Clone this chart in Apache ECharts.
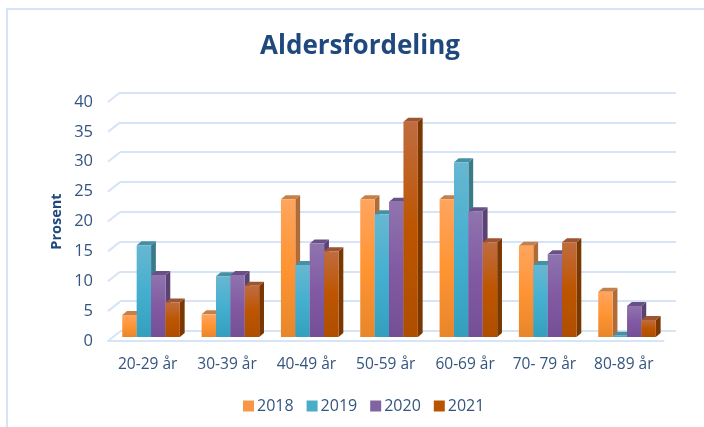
<!DOCTYPE html>
<html>
<head>
<meta charset="utf-8">
<style>html,body{margin:0;padding:0;background:#fff}#c{width:704px;height:427px}</style>
<script src="https://cdn.jsdelivr.net/npm/echarts@6/dist/echarts.min.js"></script>
</head>
<body>
<div id="c"></div>
<script>
const categories = ['20-29 år','30-39 år','40-49 år','50-59 år','60-69 år','70- 79 år','80-89 år'];
const years = ['2018','2019','2020','2021'];
const v2018 = [3.7,3.8,23.1,23.1,23.1,15.3,7.6];
const v2019 = [15.4,10.2,12.1,20.6,29.3,12.1,0.2];
const v2020 = [10.4,10.4,15.7,22.7,21.1,13.9,5.2];
const v2021 = [5.8,8.6,14.4,36.1,15.9,15.9,2.85];
const yTicks = [0,5,10,15,20,25,30,35,40];
const palettes = [
  {top:'#ffa55e',mid:'#ff9433',bot:'#e8862b',side:'#b06c38',cap:'#c67f47',legend:'#f79646'},
  {top:'#67b7d1',mid:'#45afd0',bot:'#339fbd',side:'#3b7a8b',cap:'#4590a3',legend:'#4bacc6'},
  {top:'#8f74ae',mid:'#825aa3',bot:'#744f96',side:'#5a4272',cap:'#6b5088',legend:'#8064a2'},
  {top:'#c06c40',mid:'#bd5500',bot:'#ae4e00',side:'#7a3800',cap:'#9c5530',legend:'#b85300'}
];
const seriesValues = [v2018,v2019,v2020,v2021];
const textColor = '#34557f';
const gridColor = '#d6e4f7';
const chart = echarts.init(document.getElementById('c'));

function barItem(si){
  return function(params, api){
    const p = api.coord([api.value(0), api.value(1)]);
    const base = api.coord([api.value(0), 0]);
    const w = api.size([1,0])[0]*0.1815;
    const x = p[0] + (si-2)*w, y = p[1], b = base[1];
    const dx = 4.8, dy = -4;
    const pal = palettes[si];
    return {type:'group',children:[
      {type:'polygon',shape:{points:[[x+w,y],[x+w+dx,y+dy],[x+w+dx,b+dy],[x+w,b]]},style:{fill:pal.side}},
      {type:'polygon',shape:{points:[[x,y],[x+dx,y+dy],[x+w+dx,y+dy],[x+w,y]]},style:{fill:pal.cap}},
      {type:'rect',shape:{x:x,y:y,width:w,height:b-y},style:{fill:new echarts.graphic.LinearGradient(0,0,0,1,[
        {offset:0,color:pal.top},{offset:0.5,color:pal.mid},{offset:1,color:pal.bot}])}}
    ]};
  };
}
function slantItem(params, api){
  const p = api.coord([0, api.value(1)]);
  const x0 = params.coordSys.x;
  return {type:'line',shape:{x1:x0,y1:p[1],x2:x0+12,y2:p[1]-9.5},style:{stroke:gridColor,lineWidth:2}};
}

const series = [
  {type:'custom',name:'wall',silent:true,xAxisIndex:1,yAxisIndex:1,coordinateSystem:'cartesian2d',
   renderItem:slantItem,data:yTicks.map(t=>[0,t]),z:1,legendHoverLink:false}
];
years.forEach((yr,i)=>{
  series.push({type:'custom',name:yr,xAxisIndex:2,yAxisIndex:2,coordinateSystem:'cartesian2d',
    renderItem:barItem(i),itemStyle:{color:palettes[i].legend},
    data:seriesValues[i].map((v,c)=>[c,v]),z:3+i,animation:false,clip:false});
});

chart.setOption({
  animation:false,
  backgroundColor:'#fff',
  title:{text:'Aldersfordeling',left:355,top:29,textAlign:'center',
    textStyle:{fontFamily:'Open Sans',fontWeight:'bold',fontSize:26,color:'#1f497d'}},
  legend:{data:years,left:238,top:393,itemWidth:11,itemHeight:11,itemGap:13,icon:'rect',
    textStyle:{fontFamily:'Open Sans',fontSize:16,color:textColor,padding:[0,0,0,-2]}},
  graphic:[{type:'polyline',silent:true,z:0,shape:{points:[[7,427],[7,9],[704,9]]},style:{stroke:gridColor,lineWidth:2,fill:null}}],
  grid:[
    {left:120,right:28,top:92.5,height:238.5},
    {left:108,right:40.5,top:102,height:239},
    {left:111.4,right:37.3,top:98.6,height:238.4}
  ],
  xAxis:[
    {gridIndex:0,type:'category',data:categories,axisLabel:{show:false},axisTick:{show:false},axisLine:{show:false}},
    {gridIndex:1,type:'category',data:categories,axisTick:{show:false},
      axisLine:{show:true,lineStyle:{color:gridColor,width:2}},
      axisLabel:{margin:16,interval:0,fontFamily:'Open Sans',fontSize:15.5,color:textColor}},
    {gridIndex:2,type:'category',data:categories,show:false}
  ],
  yAxis:[
    {gridIndex:0,type:'value',min:0,max:40,interval:5,axisLabel:{show:false},axisTick:{show:false},axisLine:{show:false},
      splitLine:{show:true,lineStyle:{color:gridColor,width:2}}},
    {gridIndex:1,type:'value',min:0,max:40,interval:5,splitLine:{show:false},axisTick:{show:false},axisLine:{show:false},
      name:'Prosent',nameLocation:'middle',nameGap:44,nameMoveOverlap:false,
      nameTextStyle:{fontFamily:'Open Sans',fontWeight:'bold',fontSize:14.5,color:'#1f497d'},
      axisLabel:{margin:15,padding:[5,0,0,0],fontFamily:'Open Sans',fontSize:16.5,color:textColor}},
    {gridIndex:2,type:'value',min:0,max:40,interval:5,show:false}
  ],
  series:series
});
</script>
</body>
</html>
